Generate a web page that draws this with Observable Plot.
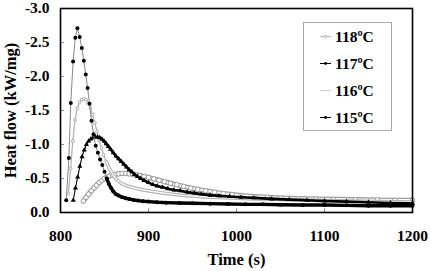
<!DOCTYPE html>
<html>
<head>
<meta charset="utf-8">
<script src="https://cdn.jsdelivr.net/npm/d3@7"></script>
<script src="https://cdn.jsdelivr.net/npm/@observablehq/plot@0.6"></script>
<style>
  html, body { margin: 0; padding: 0; background: #fff; }
  #chart svg { display: block; }
</style>
</head>
<body>
<div id="chart"></div>
<script>
const xTicks = [800, 900, 1000, 1100, 1200];
const yTicks = [0, -0.5, -1.0, -1.5, -2.0, -2.5, -3.0];
const seriesNames = ["118ºC", "117ºC", "116ºC", "115ºC"];

const t115 = [806.5, 809.5, 811.7, 814.3, 816.8, 819.2, 821.8, 824.2, 826.5, 828.7, 830.8, 833, 835.2, 837.5, 840, 842.5, 845, 847.5, 850, 852.5, 855, 857.5, 860, 863, 866, 870, 874, 878, 883, 888, 894, 900, 910, 920, 935, 950, 970, 990, 1010, 1030, 1050, 1075, 1100, 1125, 1150, 1175, 1200];
const v115 = [-0.18, -0.8, -1.61, -2.22, -2.57, -2.71, -2.58, -2.42, -2.23, -2.03, -1.83, -1.6, -1.35, -1.15, -0.98, -0.88, -0.78, -0.7, -0.6, -0.5, -0.42, -0.36, -0.31, -0.27, -0.25, -0.225, -0.21, -0.2, -0.185, -0.175, -0.165, -0.16, -0.15, -0.145, -0.14, -0.135, -0.13, -0.125, -0.12, -0.12, -0.115, -0.11, -0.11, -0.105, -0.1, -0.1, -0.1];

const t116 = [809, 811.5, 814, 816.5, 819, 821.5, 824, 826.5, 829, 831.5, 834, 836.5, 839, 841.5, 844, 846.5, 849, 852, 855, 858, 861, 864, 868, 872, 876, 881, 886, 891, 897, 904, 912, 920, 930, 940, 952, 965, 980, 1000, 1020, 1040, 1070, 1100, 1130, 1165, 1200];
const v116 = [-0.28, -0.65, -1.05, -1.36, -1.53, -1.62, -1.66, -1.67, -1.66, -1.61, -1.54, -1.44, -1.32, -1.19, -1.06, -0.95, -0.85, -0.75, -0.66, -0.59, -0.53, -0.48, -0.44, -0.41, -0.39, -0.37, -0.355, -0.34, -0.325, -0.31, -0.295, -0.28, -0.265, -0.25, -0.24, -0.23, -0.22, -0.21, -0.2, -0.195, -0.185, -0.175, -0.17, -0.16, -0.155];

const t117 = [814.5, 817, 819.5, 822, 824.5, 827, 829.5, 832, 834.5, 837, 839.5, 842, 844.5, 847, 849.5, 852, 854.5, 857, 860, 863, 866, 869, 872, 875, 878, 881, 884, 887.5, 891, 895, 900, 905, 910, 916, 922, 929, 936, 944, 952, 960, 970, 980, 992, 1005, 1020, 1040, 1060, 1080, 1100, 1125, 1150, 1175, 1200];
const v117 = [-0.18, -0.36, -0.52, -0.68, -0.82, -0.92, -1.0, -1.05, -1.08, -1.1, -1.11, -1.11, -1.1, -1.08, -1.05, -1.01, -0.97, -0.93, -0.88, -0.83, -0.79, -0.75, -0.71, -0.67, -0.63, -0.6, -0.56, -0.53, -0.5, -0.47, -0.44, -0.41, -0.39, -0.37, -0.35, -0.33, -0.32, -0.3, -0.285, -0.27, -0.255, -0.245, -0.235, -0.225, -0.215, -0.2, -0.19, -0.18, -0.17, -0.16, -0.15, -0.14, -0.135];

const t118 = [826, 829, 832, 835, 838, 841, 844, 847, 850, 853, 856, 859, 862, 866, 870, 874, 878, 882, 886, 890, 895, 900, 906, 912, 918, 925, 932, 940, 948, 956, 965, 975, 985, 995, 1005, 1020, 1035, 1050, 1070, 1090, 1110, 1135, 1160, 1180, 1200];
const v118 = [-0.17, -0.22, -0.27, -0.32, -0.36, -0.4, -0.44, -0.47, -0.5, -0.52, -0.54, -0.55, -0.56, -0.57, -0.575, -0.575, -0.57, -0.565, -0.555, -0.545, -0.53, -0.515, -0.495, -0.475, -0.455, -0.43, -0.41, -0.385, -0.36, -0.34, -0.32, -0.3, -0.28, -0.265, -0.25, -0.235, -0.225, -0.215, -0.205, -0.2, -0.195, -0.19, -0.185, -0.18, -0.18];

const rows = (ts, vs) => ts.map((t, i) => ({t, v: vs[i]}));
const d115 = rows(t115, v115), d116 = rows(t116, v116), d117 = rows(t117, v117), d118 = rows(t118, v118);

const FONT = "'Liberation Serif', 'Times New Roman', serif";

const chart = Plot.plot({
  width: 430,
  height: 271,
  marginLeft: 60,
  marginRight: 18,
  marginTop: 8,
  marginBottom: 59,
  style: {fontFamily: FONT, fontWeight: "bold", fontSize: "15.5px", background: "#fff", color: "#000"},
  x: {domain: [800, 1200], ticks: xTicks, tickSize: 0, tickPadding: 17, tickFormat: d => String(d), label: "Time (s)", labelAnchor: "center", labelOffset: 52, labelArrow: "none"},
  y: {domain: [0, -3], ticks: yTicks, tickSize: 0, tickPadding: 11, tickFormat: d => d.toFixed(1), label: "Heat flow (kW/mg)", labelAnchor: "center", labelOffset: 56, labelArrow: "none"},
  marks: [
    Plot.ruleY(yTicks.slice(1, -1), {x1: 800, x2: 804.5, stroke: "#888", strokeWidth: 1}),
    Plot.ruleX(xTicks.slice(1, -1), {y1: 0, y2: -0.05, stroke: "#888", strokeWidth: 1}),
    // 118
    Plot.line(d118, {x: "t", y: "v", stroke: "#9c9c9c", strokeWidth: 5}),
    Plot.line(d118, {x: "t", y: "v", stroke: "#fff", strokeWidth: 2.4}),
    Plot.dot(d118, {x: "t", y: "v", r: 2.3, fill: "#fff", stroke: "#9c9c9c", strokeWidth: 1}),
    // 116
    Plot.line(d116, {x: "t", y: "v", stroke: "#b4b4b4", strokeWidth: 1.3}),
    Plot.line(d116, {filter: d => d.t >= 850, x: "t", y: "v", stroke: "#b4b4b4", strokeWidth: 3.6}),
    Plot.line(d116, {filter: d => d.t >= 850, x: "t", y: "v", stroke: "#fff", strokeWidth: 1.2}),
    Plot.dot(d116, {filter: d => d.t < 850, x: "t", y: "v", r: 1.4, fill: "#fff", stroke: "#aaa", strokeWidth: 1}),
    // 117
    Plot.line(d117, {x: "t", y: "v", stroke: "#000", strokeWidth: 1.1}),
    Plot.line(d117, {filter: d => d.t >= 846, x: "t", y: "v", stroke: "#000", strokeWidth: 2.6}),
    Plot.dot(d117, {x: "t", y: "v", symbol: "triangle", r: 1.9, fill: "#000"}),
    // 115
    Plot.line(d115, {x: "t", y: "v", stroke: "#888", strokeWidth: 1}),
    Plot.line(d115, {filter: d => d.t >= 852, x: "t", y: "v", stroke: "#000", strokeWidth: 3.4}),
    Plot.dot(d115, {x: "t", y: "v", r: 2, fill: "#000"}),
    Plot.frame({stroke: "#000", strokeWidth: 1.6})
  ]
});
document.getElementById("chart").appendChild(chart);

const svg = d3.select(chart);
// larger axis titles
svg.selectAll('[aria-label="x-axis label"], [aria-label="y-axis label"]').attr("font-size", "16.5px");

// legend box inside the plot
const lg = svg.append("g").attr("font-family", FONT).attr("font-weight", "bold").attr("font-size", "15.5px").attr("text-anchor", "start");
lg.append("rect").attr("x", 303.5).attr("y", 22.5).attr("width", 88).attr("height", 108).attr("fill", "#fff").attr("stroke", "#aaa").attr("stroke-width", 1);
const legendStyle = [
  {stroke: "#bbb", mark: "open"},
  {stroke: "#000", mark: "dot"},
  {stroke: "#ccc", mark: "none"},
  {stroke: "#000", mark: "dot"}
];
seriesNames.forEach((name, i) => {
  const y = 36.5 + i * 27;
  const s = legendStyle[i];
  lg.append("line").attr("x1", 320).attr("x2", 331).attr("y1", y).attr("y2", y).attr("stroke", s.stroke).attr("stroke-width", 1);
  if (s.mark === "dot") lg.append("circle").attr("cx", 325.5).attr("cy", y).attr("r", 1.4).attr("fill", "#000");
  if (s.mark === "open") lg.append("circle").attr("cx", 325.5).attr("cy", y).attr("r", 1.4).attr("fill", "#fff").attr("stroke", "#aaa");
  lg.append("text").attr("x", 335).attr("y", y).attr("dy", "0.35em").attr("fill", "#000").text(name);
});
</script>
</body>
</html>
